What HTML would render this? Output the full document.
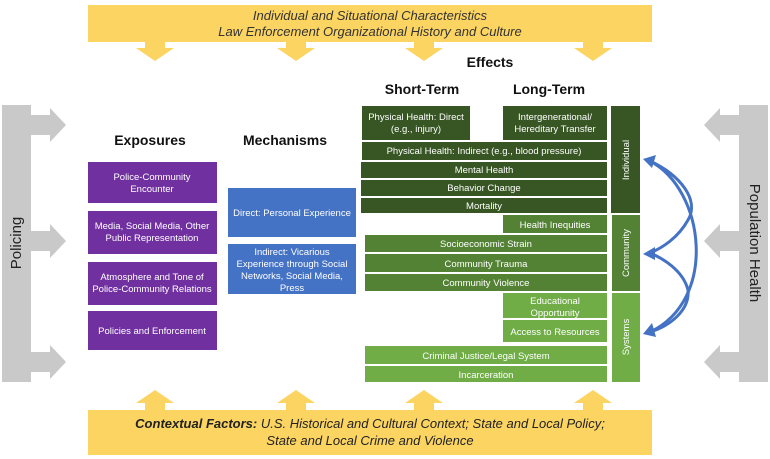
<!DOCTYPE html>
<html><head><style>
body{margin:0;background:#fff;}
svg{display:block;font-family:"Liberation Sans",sans-serif;}
.w{fill:#fff;font-size:9.5px;text-anchor:middle;}
.h{font-weight:bold;font-size:14px;text-anchor:middle;fill:#111;}
</style></head><body>
<svg width="770" height="459" viewBox="0 0 770 459">
<rect x="88" y="5" width="564" height="37" fill="#fbd462"/>
<g fill="#fbd462">
<polygon points="145,42 165,42 165,48 174,48 155,61 136,48 145,48"/>
<polygon points="286,42 306,42 306,48 315,48 296,61 277,48 286,48"/>
<polygon points="414,42 434,42 434,48 443,48 424,61 405,48 414,48"/>
<polygon points="583,42 603,42 603,48 612,48 593,61 574,48 583,48"/>
<rect x="88" y="410" width="564" height="45"/>
<polygon points="145,410 165,410 165,403 174,403 155,390 136,403 145,403"/>
<polygon points="286,410 306,410 306,403 315,403 296,390 277,403 286,403"/>
<polygon points="414,410 434,410 434,403 443,403 424,390 405,403 414,403"/>
<polygon points="583,410 603,410 603,403 612,403 593,390 574,403 583,403"/>
</g>
<text x="370" y="20" font-size="13" font-style="italic" text-anchor="middle" fill="#333">Individual and Situational Characteristics</text>
<text x="370" y="36" font-size="13" font-style="italic" text-anchor="middle" fill="#333">Law Enforcement Organizational History and Culture</text>
<text x="370" y="428" font-size="13" font-style="italic" text-anchor="middle" fill="#222"><tspan font-weight="bold">Contextual Factors:</tspan> U.S. Historical and Cultural Context; State and Local Policy;</text>
<text x="370" y="445" font-size="13" font-style="italic" text-anchor="middle" fill="#222">State and Local Crime and Violence</text>
<g fill="#c9c9c9">
<rect x="2" y="105" width="29" height="277"/>
<polygon points="31,115 50,115 50,108 66,125 50,142 50,135 31,135"/>
<polygon points="31,231 50,231 50,224 66,241 50,258 50,251 31,251"/>
<polygon points="31,352 50,352 50,345 66,362 50,379 50,372 31,372"/>
<rect x="739" y="105" width="29" height="277"/>
<polygon points="739,115 720,115 720,108 704,125 720,142 720,135 739,135"/>
<polygon points="739,231 720,231 720,224 704,241 720,258 720,251 739,251"/>
<polygon points="739,352 720,352 720,345 704,362 720,379 720,372 739,372"/>
</g>
<text transform="translate(21,243) rotate(-90)" font-size="15" text-anchor="middle" fill="#222">Policing</text>
<text transform="translate(750,243) rotate(90)" font-size="15" text-anchor="middle" fill="#222">Population Health</text>
<text class="h" x="150" y="145">Exposures</text>
<text class="h" x="285" y="145">Mechanisms</text>
<text class="h" x="490" y="67">Effects</text>
<text class="h" x="422" y="94" font-size="13">Short-Term</text>
<text class="h" x="549" y="94" font-size="13">Long-Term</text>
<g fill="#7030a0">
<rect x="88" y="162" width="129" height="41"/>
<rect x="88" y="211" width="129" height="43"/>
<rect x="88" y="262" width="129" height="43"/>
<rect x="88" y="311" width="129" height="39"/>
</g>
<text class="w" x="152" y="180">Police-Community</text><text class="w" x="152" y="192">Encounter</text>
<text class="w" x="152" y="229">Media, Social Media, Other</text><text class="w" x="152" y="241">Public Representation</text>
<text class="w" x="152" y="280">Atmosphere and Tone of</text><text class="w" x="152" y="292">Police-Community Relations</text>
<text class="w" x="152" y="334">Policies and Enforcement</text>
<g fill="#4472c4">
<rect x="228" y="188" width="128" height="49"/>
<rect x="228" y="244" width="128" height="50"/>
</g>
<text class="w" x="292" y="216">Direct: Personal Experience</text>
<text class="w" x="292" y="255">Indirect: Vicarious</text>
<text class="w" x="292" y="267">Experience through Social</text>
<text class="w" x="292" y="279">Networks, Social Media,</text>
<text class="w" x="292" y="291">Press</text>
<g fill="#375623">
<rect x="362" y="106" width="108" height="34"/>
<rect x="503" y="106" width="104" height="34"/>
<rect x="362" y="142" width="245" height="18"/>
<rect x="361" y="162" width="246" height="16"/>
<rect x="361" y="180" width="246" height="16"/>
<rect x="361" y="198" width="246" height="15"/>
<rect x="611" y="106" width="29" height="107"/>
</g>
<text class="w" x="416" y="120">Physical Health: Direct</text><text class="w" x="416" y="132">(e.g., injury)</text>
<text class="w" x="555" y="120">Intergenerational/</text><text class="w" x="555" y="132">Hereditary Transfer</text>
<text class="w" x="484" y="154">Physical Health: Indirect (e.g., blood pressure)</text>
<text class="w" x="484" y="173">Mental Health</text>
<text class="w" x="484" y="191">Behavior Change</text>
<text class="w" x="484" y="209">Mortality</text>
<text class="w" transform="translate(629,160) rotate(-90)">Individual</text>
<g fill="#548235">
<rect x="503" y="215" width="104" height="18"/>
<rect x="365" y="235" width="242" height="17"/>
<rect x="365" y="254" width="242" height="18"/>
<rect x="365" y="274" width="242" height="17"/>
<rect x="612" y="215" width="28" height="76"/>
</g>
<text class="w" x="555" y="228">Health Inequities</text>
<text class="w" x="486" y="247">Socioeconomic Strain</text>
<text class="w" x="486" y="267">Community Trauma</text>
<text class="w" x="486" y="286">Community Violence</text>
<text class="w" transform="translate(629,253) rotate(-90)">Community</text>
<g fill="#70ad47">
<rect x="503" y="293" width="104" height="25"/>
<rect x="503" y="320" width="104" height="22"/>
<rect x="365" y="346" width="242" height="18"/>
<rect x="365" y="366" width="242" height="16"/>
<rect x="612" y="293" width="28" height="89"/>
</g>
<text class="w" x="555" y="304">Educational</text><text class="w" x="555" y="316">Opportunity</text>
<text class="w" x="555" y="335">Access to Resources</text>
<text class="w" x="486" y="359">Criminal Justice/Legal System</text>
<text class="w" x="486" y="378">Incarceration</text>
<text class="w" transform="translate(629,337) rotate(-90)">Systems</text>
<g fill="none" stroke="#4472c4" stroke-width="3">
<path d="M650,161 C705,190 718,300 650,332"/>
<path d="M650,161 C680,175 700,200 688,220 C678,238 662,248 650,253"/>
<path d="M650,253 C662,258 683,270 688,290 C690,310 670,326 650,332"/>
</g>
<g fill="#4472c4">
<polygon points="643,159 656,155 652,168"/>
<polygon points="643,254 655,247 655,260"/>
<polygon points="643,334 652,323 656,337"/>
</g>
</svg>
</body></html>
